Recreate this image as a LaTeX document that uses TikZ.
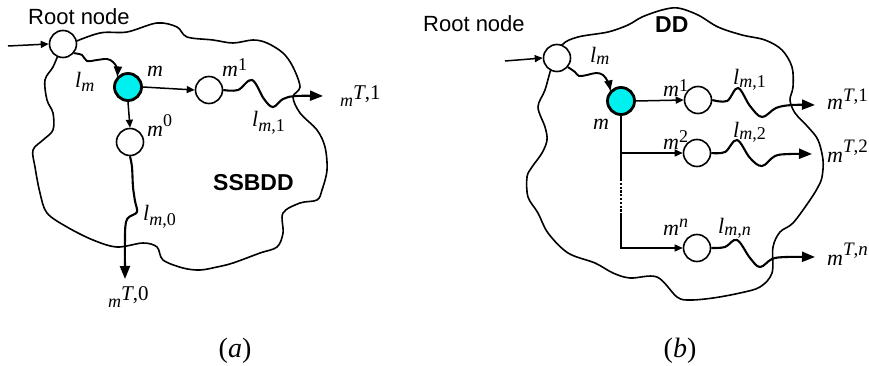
\documentclass[tikz,border=0pt]{standalone}
\usepackage{fontspec}
\setmainfont{Liberation Serif}
\newfontfamily\arial{Liberation Sans}
\usetikzlibrary{arrows.meta}
\definecolor{nodecyan}{RGB}{0,240,240}

% label helpers: base size, raised / lowered index
\newcommand\bsz[1]{\fontsize{#1}{#1}\selectfont}
\newcommand\hiidx[2]{\raisebox{#1}{\bsz{18}#2}}
\newcommand\loidx[2]{\raisebox{-#1}{\bsz{18}#2}}

\tikzset{
  vert/.style={circle,draw,line width=1.6pt,fill=white,minimum size=27pt,inner sep=0pt},
  cur/.style={circle,draw,line width=2.8pt,fill=nodecyan,minimum size=27pt,inner sep=0pt},
  blob/.style={line width=1.6pt,line join=round},
  edge/.style={line width=1.5pt,-{Triangle[length=8pt,width=7pt]}},
  plain/.style={line width=1.5pt},
  wave/.style={line width=2.1pt,-{Triangle[length=13pt,width=10pt]}},
  inwave/.style={line width=1.9pt,-{Triangle[length=10pt,width=8pt]}},
  lab/.style={anchor=base west,inner sep=0pt,font=\bsz{22}\itshape},
  sans/.style={anchor=base west,inner sep=0pt,font=\arial\bsz{22}},
  title/.style={anchor=base west,inner sep=0pt,font=\arial\bfseries\bsz{23}},
  caption/.style={anchor=base,inner sep=0pt,font=\bsz{28}}
}

\begin{document}
\begin{tikzpicture}[x=1pt,y=-1pt]
\useasboundingbox (0,0) rectangle (869,366);

% ---------------- (a) SSBDD ----------------
\draw[blob] plot[smooth cycle,tension=0.55] coordinates {
  (70,44) (100,33) (127,32) (157,23) (177,27) (187,37) (213,40) (233,43)
  (253,40) (267,43) (283,53) (293,67) (300,87) (293,97) (300,113) (317,130)
  (325,147) (327,170) (322,190) (317,200) (300,203) (283,213) (283,233)
  (277,247) (260,253) (233,263) (217,267) (200,270) (183,268) (163,260)
  (157,247) (143,243) (117,247) (93,240) (67,227) (47,213) (40,193)
  (35,167) (33,150) (43,140) (53,130) (53,113) (47,100) (45,80) (53,67) (60,52)};

\node[vert] (ra) at (63,44) {};
\node[cur]  (ma) at (128,87) {};
\node[vert] (a1) at (209,90) {};
\node[vert] (a0) at (130,142) {};

\coordinate (ina) at (8,46);
\coordinate (ta1) at (323,96);
\coordinate (ta0) at (125,279);

\draw[edge] (ina) -- (ra.west);
\draw[inwave] plot[smooth,tension=0.6] coordinates {
  (ra.-40) (82,55) (87,61) (97,60) (107,59) (113,62) (117,68) (ma.135)};
\draw[edge] (ma.east) -- (a1.west);
\draw[edge] (ma.south) -- (a0.north);
\draw[wave] plot[smooth,tension=0.6] coordinates {
  (a1.east) (238,90) (252,80) (264,99) (273,107) (283,99) (296,96) (ta1)};
\draw[wave] plot[smooth,tension=0.5] coordinates {
  (a0.south) (132,167) (133,187) (135,201) (137,212) (129,217) (126,222) (125,235) (ta0)};

\node[sans] (rta) at (28,25) {Root node};
\node[title] (nta) at (213,190) {SSBDD};
\node[lab] (lma) at (75,88) {l\loidx{4pt}{m}};
\node[lab] (mma) at (147,77) {m};
\node[lab] (m1a) at (222,77) {m\hiidx{6pt}{\upshape 1}};
\node[lab] (m0a) at (147,137) {m\hiidx{10pt}{\upshape 0}};
\node[lab] (l1a) at (252,127) {l\loidx{5pt}{m\upshape,1}};
\node[lab] (l0a) at (143,220) {l\loidx{5pt}{m\upshape,0}};
\node[lab] (t1a) at (340,107) {{\bsz{18}m}\raisebox{7pt}{\bsz{21}T\upshape,1}};
\node[lab] (t0a) at (108,307) {{\bsz{18}m}\raisebox{7pt}{\bsz{21}T\upshape,0}};

\node[caption] (capa) at (235,357) {(\textit{a})};

% ---------------- (b) DD ----------------
\draw[blob] plot[smooth cycle,tension=0.55] coordinates {
  (562,45) (578,37) (608,32) (628,25) (642,17) (662,10) (678,8) (698,15)
  (718,27) (742,35) (765,40) (782,50) (792,67) (793,87) (790,100) (795,113)
  (808,127) (818,140) (823,160) (822,177) (818,187) (810,200) (793,223)
  (780,232) (773,247) (772,273) (760,287) (740,293) (713,298) (690,300)
  (677,297) (657,277) (630,278) (613,273) (595,263) (568,253) (548,233)
  (538,213) (528,197) (527,177) (532,167) (542,153) (547,140) (545,127)
  (538,107) (545,90) (552,66)};

\node[vert] (rb) at (557,58) {};
\node[cur]  (mb) at (621,101) {};
\node[vert] (b1) at (698,100) {};
\node[vert] (b2) at (697,153) {};
\node[vert] (bn) at (697,248) {};

\coordinate (inb) at (505,61);
\coordinate (jb2) at (621,153);
\coordinate (dota) at (621,179);
\coordinate (dotb) at (621,213);
\coordinate (jbn) at (621,248);
\coordinate (tb1) at (815,105);
\coordinate (tb2) at (812,154);
\coordinate (tbn) at (815,257);

\draw[edge] (inb) -- (rb.west);
\draw[inwave] plot[smooth,tension=0.6] coordinates {
  (rb.-40) (575,72) (579,76) (587,75) (596,73) (603,75) (608,82) (mb.135)};
\draw[edge] (mb.east) -- (b1.west);
\draw[plain] (mb.south) -- (dota);
\draw[line width=1.7pt,dash pattern=on 2.2pt off 1.6pt] (dota) -- (dotb);
\draw[edge,line join=miter] (dotb) -- (jbn) -- (bn.west);
\draw[edge] (jb2) -- (b2.west);

\draw[wave] plot[smooth,tension=0.6] coordinates {
  (b1.east) (727,101) (738,88) (750,106) (762,117) (776,108) (792,105) (tb1)};
\draw[wave] plot[smooth,tension=0.6] coordinates {
  (b2.east) (725,152) (737,140) (750,158) (762,166) (775,156) (790,154) (tb2)};
\draw[wave] plot[smooth,tension=0.6] coordinates {
  (bn.east) (725,247) (737,240) (750,258) (760,267) (772,259) (786,257) (tbn)};

\node[sans] (rtb) at (423,32) {Root node};
\node[title] (ntb) at (655,33) {DD};
\node[lab] (lmb) at (590,63) {l\loidx{2pt}{m}};
\node[lab] (mmb) at (593,130) {m};
\node[lab] (m1b) at (663,97) {m\hiidx{5pt}{\upshape 1}};
\node[lab] (m2b) at (663,150) {m\hiidx{8pt}{\upshape 2}};
\node[lab] (mnb) at (663,235) {m\hiidx{8pt}{n}};
\node[lab] (l1b) at (733,85) {l\loidx{3pt}{m\upshape,1}};
\node[lab] (l2b) at (733,138) {l\loidx{2pt}{m\upshape,2}};
\node[lab] (lnb) at (718,233) {l\loidx{2pt}{m\upshape,\itshape n}};
\node[lab] (t1b) at (827,110) {m\raisebox{8pt}{\bsz{19}T\upshape,1}};
\node[lab] (t2b) at (827,163) {m\raisebox{10pt}{\bsz{19}T\upshape,2}};
\node[lab] (tnb) at (827,265) {m\raisebox{10pt}{\bsz{19}T\upshape,\itshape n}};

\node[caption] (capb) at (680,357) {(\textit{b})};
\end{tikzpicture}
\end{document}
